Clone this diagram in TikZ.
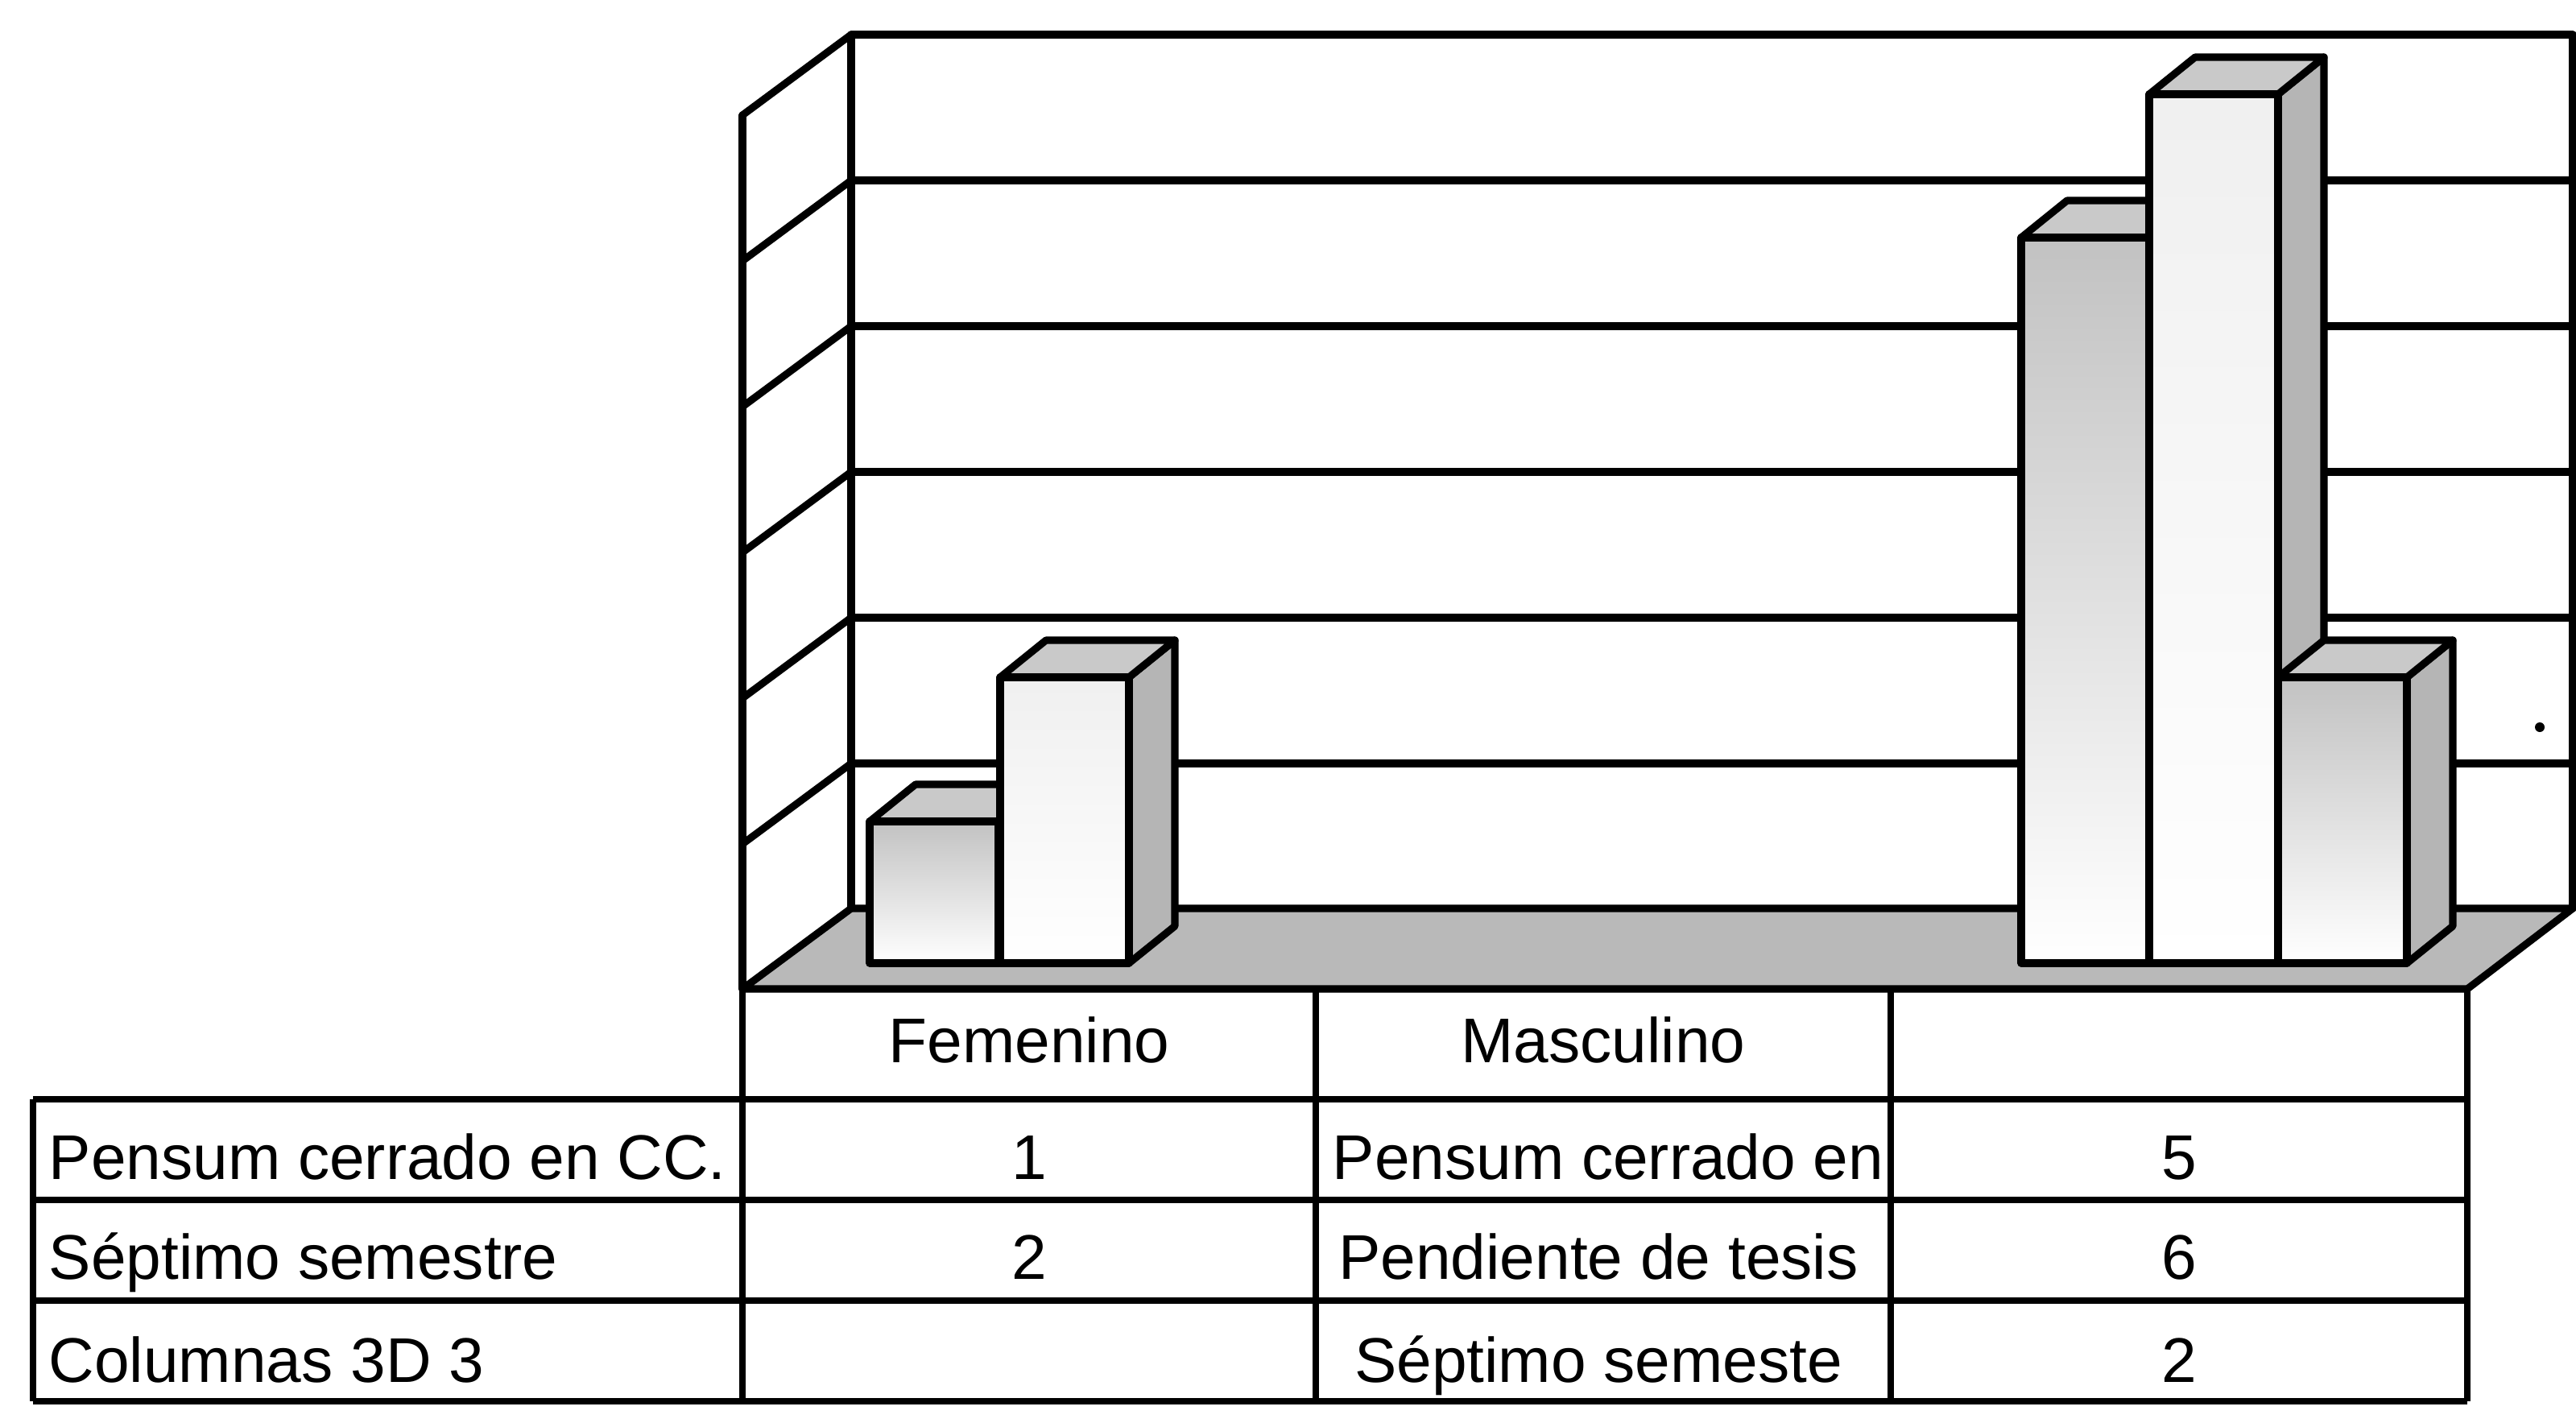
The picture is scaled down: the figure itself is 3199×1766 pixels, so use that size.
\documentclass[tikz,border=0pt]{standalone}
\usepackage{fontspec}
\setmainfont{Liberation Sans}
\newcommand\colbar[3]{%
  \pgfmathsetmacro\cbR{#1+160}%
  \pgfmathsetmacro\cbT{#2-46}%
  \filldraw[sideface] (\cbR,1196) -- (\cbR+57,1150) -- (\cbR+57,\cbT) -- (\cbR,#2) -- cycle;
  \filldraw[topface] (#1,#2) -- (#1+57,\cbT) -- (\cbR+57,\cbT) -- (\cbR,#2) -- cycle;
  \shade[#3] (#1,1196) rectangle (\cbR,#2);
  \draw[edge] (#1,1196) rectangle (\cbR,#2);
}
\begin{document}
\begin{tikzpicture}[x=0.01cm,y=-0.01cm,
  wall/.style={line width=2.6pt,line join=round,line cap=round},
  tbl/.style={line width=2.3pt},
  floorfill/.style={fill=gray!55,draw=black,line width=2.6pt,line join=round},
  sideface/.style={fill=gray!58,draw=black,line width=2.6pt,line join=round},
  topface/.style={fill=gray!42,draw=black,line width=2.6pt,line join=round},
  edge/.style={draw=black,line width=2.6pt,line join=round},
  sA/.style={top color=gray!48,middle color=gray!26,bottom color=white},
  sB/.style={top color=gray!12,bottom color=white},
  txt/.style={inner sep=0pt,font=\fontsize{22.3}{26}\selectfont},
]
\useasboundingbox (0,0) rectangle (3199,1766);
\fill[white] (0,0) rectangle (3199,1766);

% floor
\filldraw[floorfill] (1057,1128) -- (3195,1128) -- (3064,1228) -- (922,1228) -- cycle;

% grid lines on back wall and left wall
\foreach \gy in {43,224,405,586,767,948} {
  \draw[wall] (1057,\gy) -- (3195,\gy);
  \draw[wall] (1057,\gy) -- (922,\gy+100);
}
% wall edges
\draw[wall] (1057,43) -- (1057,1128);
\draw[wall] (922,143) -- (922,1228);
\draw[wall] (3195,43) -- (3195,1128);

% bars
\colbar{1080}{1020}{sA}
\colbar{1242}{841}{sB}
\colbar{2510}{295}{sA}
\colbar{2669}{117}{sB}
\colbar{2829}{841}{sA}

% speck
\fill (3154,903) circle (6);

% table
\draw[tbl] (922,1228) -- (3064,1228);
\draw[tbl] (922,1228) -- (922,1740);
\draw[tbl] (1634,1228) -- (1634,1740);
\draw[tbl] (2348,1228) -- (2348,1740);
\draw[tbl] (3064,1228) -- (3064,1740);
\draw[tbl] (41,1365) -- (41,1740);
\foreach \ry in {1365,1490,1615,1740} {
  \draw[tbl] (41,\ry) -- (3064,\ry);
}

% texts
\node[txt,anchor=base] (hf) at (1278,1319) {Femenino};
\node[txt,anchor=base] (hm) at (1991,1319) {Masculino};

\node[txt,anchor=base west] (l1) at (60,1464) {Pensum cerrado en CC.};
\node[txt,anchor=base west] (l2) at (60,1588) {Séptimo semestre};
\node[txt,anchor=base west] (l3) at (60,1716) {Columnas 3D 3};

\node[txt,anchor=base] (f1) at (1278,1464) {1};
\node[txt,anchor=base] (f2) at (1278,1588) {2};

\node[txt,anchor=base west] (m1) at (1654,1464) {Pensum cerrado en};
\node[txt,anchor=base] (m2) at (1985,1588) {Pendiente de tesis};
\node[txt,anchor=base] (m3) at (1985,1716) {Séptimo semeste};

\node[txt,anchor=base] (v1) at (2706,1464) {5};
\node[txt,anchor=base] (v2) at (2706,1588) {6};
\node[txt,anchor=base] (v3) at (2706,1716) {2};
\end{tikzpicture}
\end{document}
